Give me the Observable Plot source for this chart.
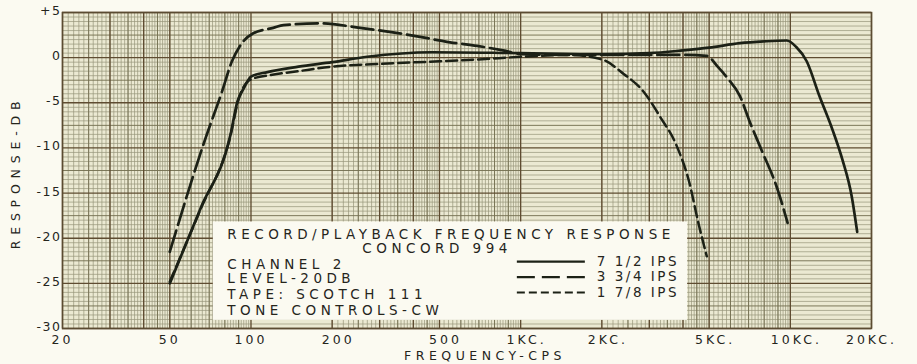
<!DOCTYPE html>
<html><head><meta charset="utf-8">
<script src="https://cdn.jsdelivr.net/npm/d3@7"></script>
<script src="https://cdn.jsdelivr.net/npm/@observablehq/plot@0.6"></script>
<style>
html,body{margin:0;padding:0;background:#fbfaf1;}
#chart{width:917px;height:364px;overflow:hidden;}
</style></head><body><div id="chart"></div>
<script>
// ---- data ----
const seriesNames = ["7 1/2 IPS", "3 3/4 IPS", "1 7/8 IPS"];

// 7 1/2 IPS (solid)
const fSolid  = [50, 65, 84, 89, 94, 100, 115, 150, 200, 270, 470, 1000, 2000, 3000, 4000, 5000, 6500, 8000, 9700, 10500, 11500, 12800, 14300, 15600, 16900, 17700];
const dbSolid = [-25, -16.7, -8.5, -4.9, -3.4, -2.1, -1.6, -1.0, -0.5, 0.1, 0.6, 0.5, 0.4, 0.5, 0.8, 1.1, 1.6, 1.8, 1.9, 1.2, -0.4, -4.2, -7.9, -11.3, -15.4, -19.3];

// 3 3/4 IPS (long dashes)
const fLong  = [50, 67.7, 78, 85, 91, 102, 121, 132, 180, 254, 336, 424, 547, 689, 860, 1000, 1500, 2000, 3000, 4000, 4900, 5377, 5860, 6490, 7070, 7890, 8900, 9770];
const dbLong = [-21.5, -9, -3.8, -0.4, 1.3, 2.7, 3.3, 3.6, 3.8, 3.3, 2.8, 2.3, 1.7, 1.3, 0.8, 0.4, 0.3, 0.3, 0.3, 0.3, 0.2, -1.0, -2.3, -4.2, -7.1, -10.5, -14.3, -18.3];

// 1 7/8 IPS (short dashes)
const fShort  = [50, 65, 84, 90, 100, 120, 150, 200, 300, 500, 700, 1000, 1500, 2000, 2410, 2862, 3281, 3793, 4236, 4535, 4900];
const dbShort = [-24.8, -16.8, -8.6, -4.6, -2.4, -1.9, -1.5, -1.0, -0.7, -0.4, -0.2, 0.1, 0.3, -0.2, -1.8, -3.8, -6.5, -9.8, -14, -18, -22];

const xTicks = [20, 50, 100, 200, 500, 1000, 2000, 5000, 10000, 20000];
const xTickLabels = ["20", "50", "100", "200", "500", "1KC.", "2KC.", "5KC.", "10KC.", "20KC."];
const yTicks = [5, 0, -5, -10, -15, -20, -25, -30];
const yTickLabels = ["+5", "0", "-5", "-10", "-15", "-20", "-25", "-30"];

const titleLines = ["RECORD/PLAYBACK FREQUENCY RESPONSE", "CONCORD 994"];
const infoLines = ["CHANNEL 2", "LEVEL-20DB", "TAPE: SCOTCH 111", "TONE CONTROLS-CW"];
const xTitle = "FREQUENCY-CPS";
const yTitle = "RESPONSE-DB";

// ---- build tables ----
const rows = (name, f, db) => f.map((v, i) => ({series: name, f: v, db: db[i]}));
const solid = rows(seriesNames[0], fSolid, dbSolid);
const longD = rows(seriesNames[1], fLong, dbLong);
const shortD = rows(seriesNames[2], fShort, dbShort);

// graph-paper grid values
const r1 = v => Math.round(v * 1000) / 1000;
const gridFineX = [], gridMedX = [], gridStrongX = [];
for (const k of [10, 100, 1000, 10000]) {
  for (let m = 2; m < 5 - 1e-9; m += 0.1) gridFineX.push(r1(m * k));
  for (let m = 5; m < 10 - 1e-9; m += 0.2) gridFineX.push(r1(m * k));
  for (const m of [2.5, 3.5, 4.5, 6, 7, 8, 9]) gridMedX.push(r1(m * k));
  for (const m of [1, 2, 3, 4, 5]) gridStrongX.push(r1(m * k));
}
const inX = v => v >= 20 && v <= 20000;
const gridFineY = [], gridMedY = [], gridStrongY = [];
for (let v = -30; v <= 5; v += 0.5) {
  if (v % 5 === 0) gridStrongY.push(v);
  else if (v % 2.5 === 0) gridMedY.push(v);
  else gridFineY.push(v);
}

// legend layout (in data units)
const legBox = {x1: 72.5, x2: 4160, y1: -29.1, y2: -18.2};
const legTextX = 81.7, legCenterX = 490;
const legTitleY = [-19.6, -21.2];
const legInfoY = [-22.9, -24.5, -26.3, -28.0];
const keyX1 = 968, keyX2 = 1730, keyLabelX = 1917;
const keyY = [-22.6, -24.3, -26.0];

const ink = "#1c2116";
const txt = "#25251c";
const font = "DejaVu Sans";
const lowIdx = [0, 1, 2, 9], midIdx = [3, 4, 5, 6, 7, 8];

const plot = Plot.plot({
  width: 917, height: 364,
  marginLeft: 62, marginRight: 46, marginTop: 12, marginBottom: 36,
  style: {background: "transparent", fontFamily: font, fontSize: "12.5px", color: txt},
  x: {type: "log", domain: [20, 20000], axis: null},
  y: {domain: [-30, 5], axis: null},
  marks: [
    Plot.frame({fill: "#ebe9d2"}),
    Plot.ruleX(gridFineX.filter(inX), {stroke: "#96957a", strokeWidth: 0.7}),
    Plot.ruleY(gridFineY, {stroke: "#96957a", strokeWidth: 0.7}),
    Plot.ruleX(gridMedX.filter(inX), {stroke: "#767253", strokeWidth: 0.95}),
    Plot.ruleY(gridMedY, {stroke: "#767253", strokeWidth: 0.95}),
    Plot.ruleX(gridStrongX.filter(inX), {stroke: "#5f4c31", strokeWidth: 1.35}),
    Plot.ruleY(gridStrongY, {stroke: "#5f4c31", strokeWidth: 1.35}),
    // legend box
    Plot.rect([legBox], {x1: "x1", x2: "x2", y1: "y1", y2: "y2", fill: "#fbfaf1"}),
    // curves
    Plot.line(solid, {x: "f", y: "db", stroke: ink, strokeWidth: 2.7, curve: "monotone-x"}),
    Plot.line(longD, {x: "f", y: "db", stroke: ink, strokeWidth: 2.7, strokeDasharray: "22,6", curve: "monotone-x"}),
    Plot.line(shortD, {x: "f", y: "db", stroke: ink, strokeWidth: 2.5, strokeDasharray: "11,5", curve: "monotone-x"}),
    Plot.frame({stroke: "#5b4b32", strokeWidth: 1.5}),
    // axes
    Plot.text(lowIdx, {x: i => xTicks[i], frameAnchor: "bottom", lineAnchor: "middle", dy: 11, text: i => xTickLabels[i], fontSize: 12.5, fill: txt}),
    Plot.text(midIdx, {x: i => xTicks[i], frameAnchor: "bottom", lineAnchor: "middle", dx: 6, dy: 11, text: i => xTickLabels[i], fontSize: 12.5, fill: txt}),
    Plot.text(yTicks, {y: d => d, frameAnchor: "left", textAnchor: "end", dx: -1, dy: -1.5, text: (d, i) => yTickLabels[i], fontSize: 12.5, fill: txt}),
    // legend text
    Plot.text([titleLines[0]], {x: legTextX, y: legTitleY[0], text: d => d, textAnchor: "start", fontSize: 13.5, fill: txt}),
    Plot.text([titleLines[1]], {x: legCenterX, y: legTitleY[1], text: d => d, textAnchor: "middle", fontSize: 13.5, fill: txt}),
    Plot.text(infoLines, {x: legTextX, y: (d, i) => legInfoY[i], text: d => d, textAnchor: "start", fontSize: 13.5, fill: txt}),
    Plot.link([0], {x1: keyX1, x2: keyX2, y1: keyY[0], y2: keyY[0], stroke: ink, strokeWidth: 2.2}),
    Plot.link([1], {x1: keyX1, x2: keyX2, y1: keyY[1], y2: keyY[1], stroke: ink, strokeWidth: 2.2, strokeDasharray: "18,7"}),
    Plot.link([2], {x1: keyX1, x2: keyX2, y1: keyY[2], y2: keyY[2], stroke: ink, strokeWidth: 2.0, strokeDasharray: "8,4"}),
    Plot.text(seriesNames, {x: keyLabelX, y: (d, i) => keyY[i], text: d => d, textAnchor: "start", fontSize: 13.5, fill: txt}),
    // axis titles
    Plot.text([xTitle], {frameAnchor: "bottom", lineAnchor: "middle", dx: 18, dy: 27, text: d => d, fontSize: 12.5, fill: txt}),
    Plot.text([yTitle], {frameAnchor: "left", textAnchor: "middle", dx: -47, dy: 2, rotate: -90, text: d => d, fontSize: 12.5, fill: txt})
  ]
});

// wide, spaced lettering like the stencil lettering of the original
const spacing = new Map();
titleLines.concat(infoLines).forEach(t => spacing.set(t, 4.5));
seriesNames.forEach(t => spacing.set(t, 2.5));
spacing.set(xTitle, 4.5);
spacing.set(yTitle, 5.8);
xTickLabels.forEach(t => spacing.set(t, 3));
yTickLabels.forEach(t => spacing.set(t, 1.5));
d3.select(plot).selectAll("text").each(function() {
  const t = this.textContent;
  if (spacing.has(t)) this.style.letterSpacing = spacing.get(t) + "px";
});
document.getElementById("chart").appendChild(plot);
</script>
</body></html>
